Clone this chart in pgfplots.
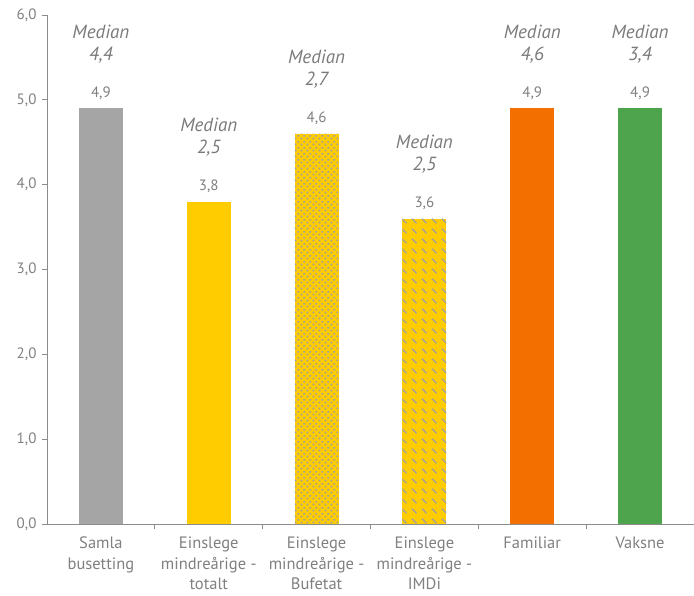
\documentclass[border=0pt]{standalone}
\usepackage{fontspec}
\setmainfont{PT Sans}
\usepackage{pgfplots}
\pgfplotsset{compat=1.18}
\usetikzlibrary{patterns.meta}
\definecolor{tgray}{HTML}{808080}
\definecolor{mgray}{HTML}{7A7A7A}
\definecolor{agray}{HTML}{8C8C8C}
\definecolor{bgray}{HTML}{A5A5A5}
\definecolor{byel}{HTML}{FFCC00}
\definecolor{bora}{HTML}{F36F00}
\definecolor{bgre}{HTML}{4EA34D}
\definecolor{pgray}{HTML}{A0A0A0}
\tikzdeclarepattern{
  name=gdots,
  bounding box={(0,0) and (6pt,6pt)},
  tile size={(6pt,6pt)},
  code={\fill (0.8pt,0.8pt) rectangle (2.8pt,2.8pt); \fill (3.8pt,3.8pt) rectangle (5.8pt,5.8pt);}
}
\tikzdeclarepattern{
  name=gdash,
  bounding box={(0,0) and (10pt,10pt)},
  tile size={(10pt,10pt)},
  code={\draw[line width=1.4pt] (2pt,8pt) -- (7pt,3pt);}
}
\begin{document}
\begin{tikzpicture}
\useasboundingbox (-47pt,-72pt) rectangle (647pt,524pt);
\begin{axis}[
  scale only axis,
  width=647pt, height=509pt,
  xmin=-0.5, xmax=5.5, ymin=0, ymax=6,
  axis lines=left,
  axis line style={draw=agray, line width=0.8pt, -},
  ytick={0,1,...,6},
  yticklabel style={font=\fontsize{15}{17}\selectfont, text=tgray, xshift=-2pt},
  /pgf/number format/.cd, use comma, fixed, fixed zerofill, precision=1, assume math mode=true,
  /pgfplots/.cd,
  tick align=outside,
  major tick length=5pt,
  tick style={draw=agray, line width=0.8pt},
  xtick={0.5,1.5,2.5,3.5,4.5},
  xticklabels={},
  extra x ticks={0,1,2,3,4,5},
  extra x tick labels={Samla\\busetting, Einslege\\mindreårige -\\totalt, Einslege\\mindreårige -\\Bufetat, Einslege\\mindreårige -\\IMDi, Familiar, Vaksne},
  extra x tick style={major tick length=0pt, tick label style={align=center, font=\fontsize{16.5}{20.5}\selectfont, text=tgray, inner sep=0pt, anchor=north, yshift=-13pt}},
  clip=false,
  nodes near coords,
  every node near coord/.append style={font=\fontsize{15}{17}\selectfont, text=tgray, anchor=base, inner sep=0pt, yshift=11pt},
]
\addplot[ybar, bar width=44pt, draw=none, fill=bgray] coordinates {(0,4.9)};
\addplot[ybar, bar width=44pt, draw=none, fill=byel] coordinates {(1,3.8)};
\addplot[ybar, bar width=44pt, draw=none, fill=byel, postaction={pattern=gdots, pattern color=pgray}] coordinates {(2,4.6)};
\addplot[ybar, bar width=44pt, draw=none, fill=byel, postaction={pattern=gdash, pattern color=pgray}] coordinates {(3,3.6)};
\addplot[ybar, bar width=44pt, draw=none, fill=bora] coordinates {(4,4.9)};
\addplot[ybar, bar width=44pt, draw=none, fill=bgre] coordinates {(5,4.9)};
\foreach \x/\v/\m in {0/4.9/{4,4}, 1/3.8/{2,5}, 2/4.6/{2,7}, 3/3.6/{2,5}, 4/4.9/{4,6}, 5/4.9/{3,4}} {
  \edef\temp{\noexpand\node[anchor=base, font=\noexpand\fontsize{19}{22}\noexpand\selectfont\noexpand\itshape, text=mgray, yshift=70pt] at (axis cs:\x,\v) {Median};
  \noexpand\node[anchor=base, font=\noexpand\fontsize{19}{22}\noexpand\selectfont\noexpand\itshape, text=mgray, yshift=48pt] at (axis cs:\x,\v) {\m};}
  \temp
}
\end{axis}
\end{tikzpicture}
\end{document}
